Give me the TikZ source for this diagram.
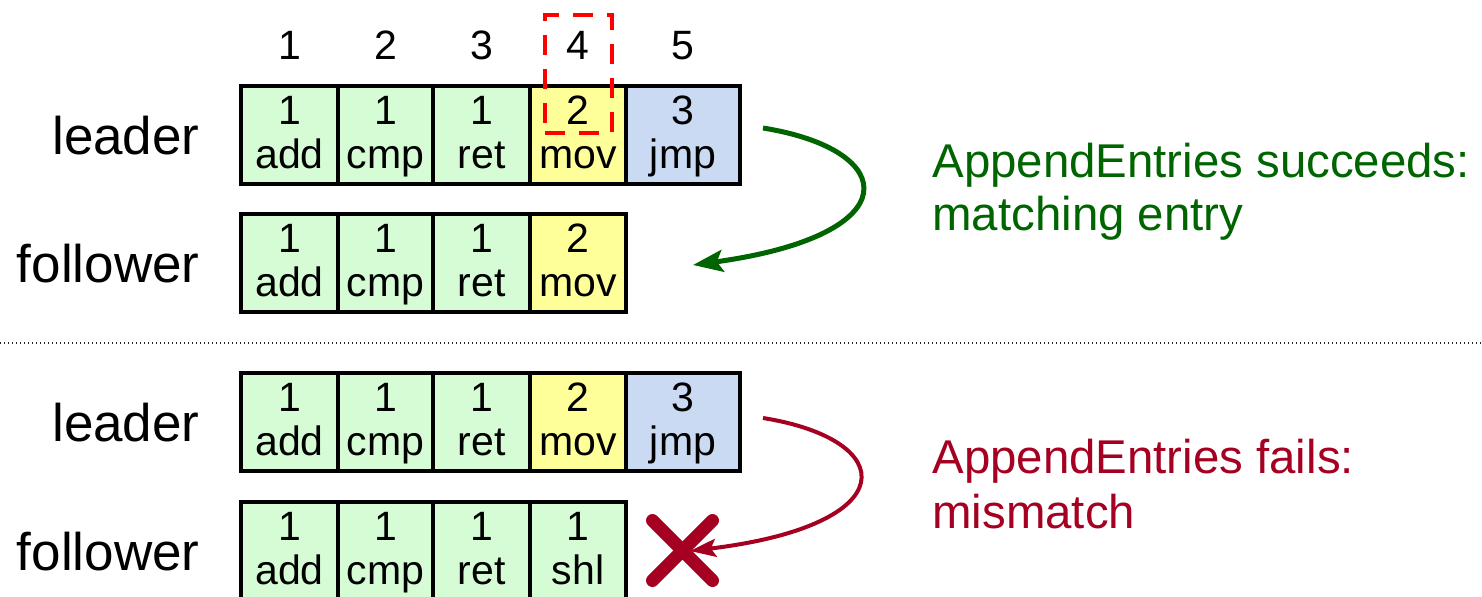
\documentclass[tikz,border=0pt]{standalone}
\usepackage{fontspec}
\setmainfont{Liberation Sans}
\usetikzlibrary{arrows.meta}
\definecolor{cgreen}{RGB}{214,252,214}
\definecolor{cyellow}{RGB}{255,255,153}
\definecolor{cblue}{RGB}{201,218,242}
\definecolor{okgreen}{RGB}{0,100,0}
\definecolor{badred}{RGB}{165,0,33}
\newcommand\logrow[3]{%
  \foreach \xl/\xr/\tm/\op/\fc [count=\k] in {#3} {
    \node[cell, fill=\fc, minimum width={(\xr-\xl)*0.5pt}]
      (#1c\k) at ({(\xl+\xr)/2},{#2+49}) {};
    \node[celltxt] (#1t\k) at ({(\xl+\xr)/2},{#2+38}) {\tm};
    \node[celltxt] (#1o\k) at ({(\xl+\xr)/2},{#2+82}) {\op};
  }%
}
\begin{document}
\begin{tikzpicture}[x=0.5pt,y=-0.5pt,
  cell/.style={draw=black, line width=2pt, inner sep=0pt, outer sep=0pt,
    minimum height=49pt},
  celltxt/.style={anchor=base, inner sep=0pt, font=\fontsize{20.5pt}{24pt}\selectfont},
  idx/.style={anchor=base, inner sep=0pt, font=\fontsize{20.5pt}{24pt}\selectfont},
  rolelbl/.style={anchor=base east, inner sep=0pt, font=\fontsize{26.5pt}{30pt}\selectfont},
  note/.style={anchor=base west, inner sep=0pt, font=\fontsize{23.7pt}{28pt}\selectfont},
  okarrow/.style={draw=okgreen, line width=2.5pt, -{Stealth[length=15pt,width=11pt,inset=3pt]}},
  badarrow/.style={draw=badred, line width=2pt, -{Stealth[length=13pt,width=9pt,inset=2.5pt]}},
  xstroke/.style={draw=badred, line width=6.5pt, line cap=round},
  selbox/.style={draw=red, line width=2pt, dash pattern=on 10pt off 7pt,
    inner sep=0pt, minimum width=33.5pt, minimum height=59pt},
  sep/.style={draw=black!85, line width=1pt, dash pattern=on 0.5pt off 1.5pt}
]
\useasboundingbox (0,0) rectangle (1482,596);

% index numbers
\node[idx] (i1) at (289.5,59) {1};
\node[idx] (i2) at (385.5,59) {2};
\node[idx] (i3) at (481.5,59) {3};
\node[idx] (i4) at (578,59) {4};
\node[idx] (i5) at (683,59) {5};

% top scenario
\node[rolelbl] (lab1) at (200,154) {leader};
\node[rolelbl] (lab2) at (200,282) {follower};
\logrow{A}{86}{241/338/1/add/cgreen, 338/433/1/cmp/cgreen, 433/530/1/ret/cgreen, 530/626/2/mov/cyellow, 626/740/3/jmp/cblue}
\logrow{B}{214}{241/338/1/add/cgreen, 338/433/1/cmp/cgreen, 433/530/1/ret/cgreen, 530/626/2/mov/cyellow}
\node[selbox] (sel) at (578.5,74) {};

\coordinate (g1) at (763,128);
\coordinate (g2) at (693,265);
\draw[okarrow] (g1) .. controls (900,150) and (910,235) .. (g2);
\node[note, text=okgreen] (n1) at (932,177) {AppendEntries succeeds:};
\node[note, text=okgreen] (n2) at (932,230) {matching entry};

% separator
\coordinate (s1) at (0,343);
\coordinate (s2) at (1482,343);
\draw[sep] (s1) -- (s2);

% bottom scenario
\node[rolelbl] (lab3) at (200,441) {leader};
\node[rolelbl] (lab4) at (200,570) {follower};
\logrow{C}{373}{241/338/1/add/cgreen, 338/433/1/cmp/cgreen, 433/530/1/ret/cgreen, 530/626/2/mov/cyellow, 626/740/3/jmp/cblue}
\logrow{D}{502}{241/338/1/add/cgreen, 338/433/1/cmp/cgreen, 433/530/1/ret/cgreen, 530/626/1/shl/cgreen}

\node[inner sep=0pt, minimum size=30pt] (cross) at (682.5,550.5) {};
\draw[xstroke] (cross.center) ++(-30,-30) -- ++(60,60);
\draw[xstroke] (cross.center) ++(-30,30) -- ++(60,-60);

\coordinate (r1) at (763,418);
\coordinate (r2) at (690,551);
\draw[badarrow] (r1) .. controls (900,440) and (905,525) .. (r2);
\node[note, text=badred] (n3) at (932,473) {AppendEntries fails:};
\node[note, text=badred] (n4) at (932,528) {mismatch};
\end{tikzpicture}
\end{document}
